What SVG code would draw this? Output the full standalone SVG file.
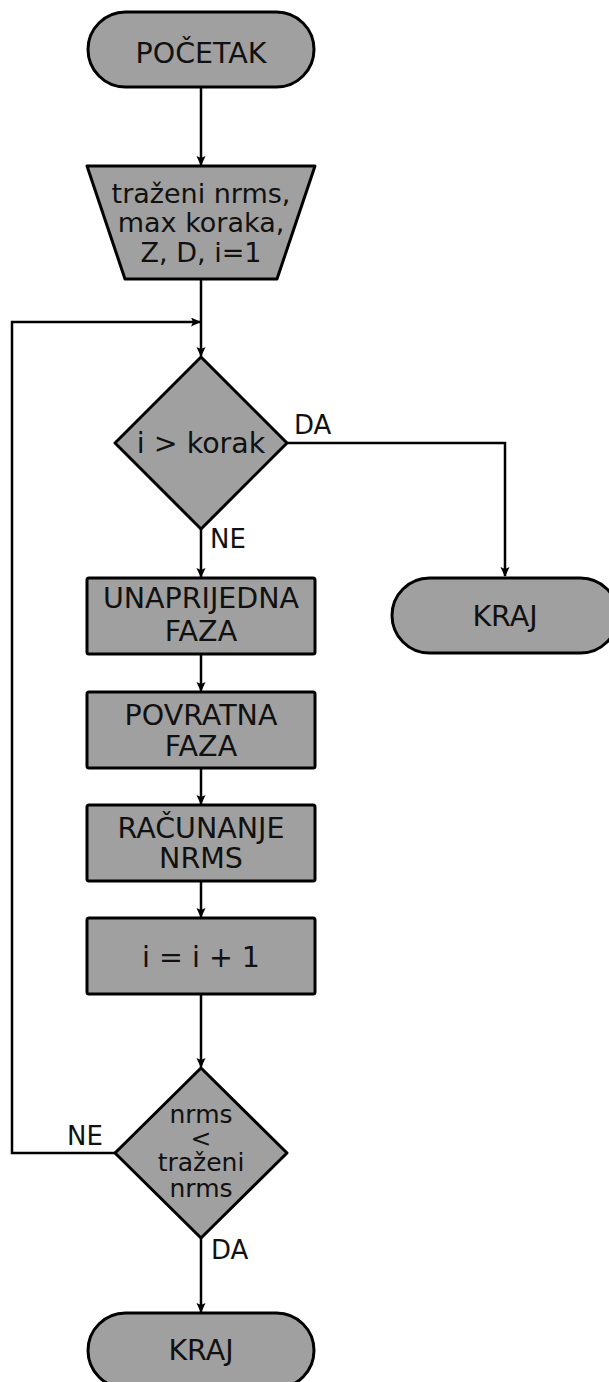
<svg xmlns="http://www.w3.org/2000/svg" width="609" height="1382" viewBox="0 0 609 1382">
<style>
.n{fill:#a0a0a0;stroke:#000;stroke-width:3;stroke-linejoin:round}
.t{font-family:"DejaVu Sans",sans-serif;font-size:28.5px;fill:#111;text-anchor:middle}
.m{font-family:"DejaVu Sans",sans-serif;font-size:27px;fill:#111;text-anchor:middle}
.s{font-family:"DejaVu Sans",sans-serif;font-size:25px;fill:#111;text-anchor:middle}
.l{font-family:"DejaVu Sans",sans-serif;font-size:26px;fill:#111}
.c{fill:none;stroke:#000;stroke-width:2.5}
</style>
<defs>
<marker id="ah" markerUnits="userSpaceOnUse" markerWidth="10" markerHeight="12" refX="9" refY="4.5" orient="auto">
<path d="M0,0 L10,4.5 L0,9 L2,4.5 Z" fill="#000"/>
</marker>
</defs>
<rect width="609" height="1382" fill="#fff"/>
<g id="connectors">
<line class="c" x1="201" y1="88" x2="201" y2="165" marker-end="url(#ah)"/>
<line class="c" x1="201" y1="280" x2="201" y2="356" marker-end="url(#ah)"/>
<polyline class="c" points="115,1153 12,1153 12,322 200,322" marker-end="url(#ah)"/>
<polyline class="c" points="287,443 505,443 505,576" marker-end="url(#ah)"/>
<line class="c" x1="201" y1="529" x2="201" y2="577" marker-end="url(#ah)"/>
<line class="c" x1="201" y1="655" x2="201" y2="691" marker-end="url(#ah)"/>
<line class="c" x1="201" y1="769" x2="201" y2="804" marker-end="url(#ah)"/>
<line class="c" x1="201" y1="882" x2="201" y2="917" marker-end="url(#ah)"/>
<line class="c" x1="201" y1="995" x2="201" y2="1067" marker-end="url(#ah)"/>
<line class="c" x1="201" y1="1238" x2="201" y2="1312" marker-end="url(#ah)"/>
<text class="l" x="294" y="434">DA</text>
<text class="l" x="210" y="548">NE</text>
<text class="l" x="67" y="1145">NE</text>
<text class="l" x="211" y="1259">DA</text>
</g>
<g id="start">
<rect class="n" x="88" y="12" width="226" height="75" rx="37.5"/>
<text class="t" x="201" y="63">POČETAK</text>
</g>
<g id="input">
<polygon class="n" points="87,166 315,166 277,279 125,279"/>
<text class="m" x="201" y="203">traženi nrms,</text>
<text class="m" x="201" y="232">max koraka,</text>
<text class="m" x="201" y="262">Z, D, i=1</text>
</g>
<g id="dec1">
<polygon class="n" points="201,357 287,443 201,529 115,443"/>
<text class="t" x="201" y="453">i &gt; korak</text>
</g>
<g id="end1">
<rect class="n" x="392" y="578" width="226" height="75" rx="37.5"/>
<text class="t" x="505" y="626">KRAJ</text>
</g>
<g id="p1">
<rect class="n" x="87" y="578" width="228" height="76" rx="2"/>
<text class="t" x="201" y="608">UNAPRIJEDNA</text>
<text class="t" x="201" y="641">FAZA</text>
</g>
<g id="p2">
<rect class="n" x="87" y="692" width="228" height="76" rx="2"/>
<text class="t" x="201" y="725">POVRATNA</text>
<text class="t" x="201" y="756">FAZA</text>
</g>
<g id="p3">
<rect class="n" x="87" y="805" width="228" height="76" rx="2"/>
<text class="t" x="201" y="838">RAČUNANJE</text>
<text class="t" x="201" y="868">NRMS</text>
</g>
<g id="p4">
<rect class="n" x="87" y="918" width="228" height="76" rx="2"/>
<text class="t" x="201" y="967">i = i + 1</text>
</g>
<g id="dec2">
<polygon class="n" points="201,1068 287,1153 201,1238 115,1153"/>
<text class="s" x="201" y="1123">nrms</text>
<text class="s" x="201" y="1147">&lt;</text>
<text class="s" x="201" y="1171">traženi</text>
<text class="s" x="201" y="1197">nrms</text>
</g>
<g id="end2">
<rect class="n" x="88" y="1313" width="226" height="75" rx="37.5"/>
<text class="t" x="201" y="1360">KRAJ</text>
</g>
</svg>
